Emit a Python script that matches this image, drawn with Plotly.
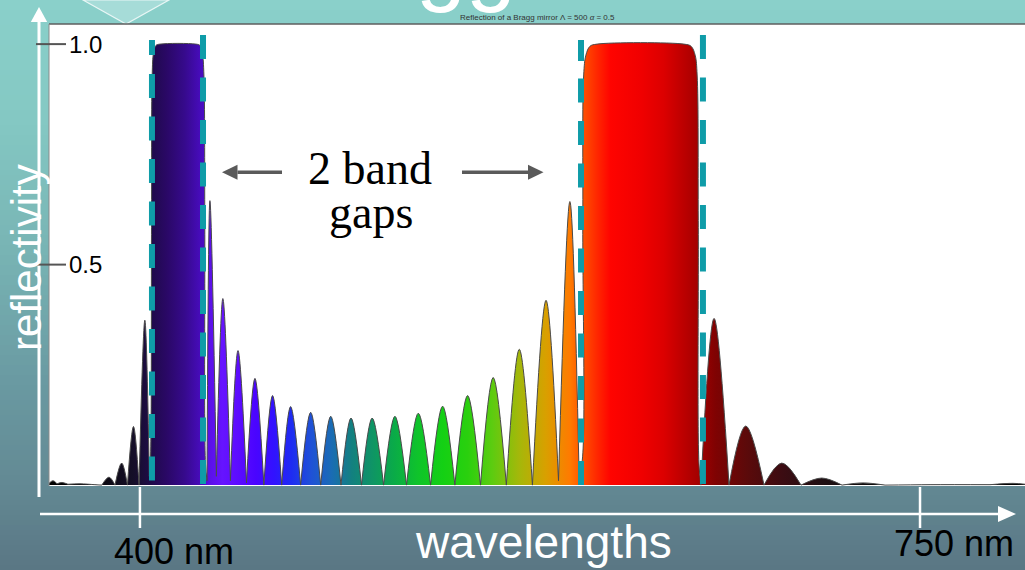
import plotly.graph_objects as go

# Reflectivity spectrum of the Bragg mirror: outline points (maxima and minima)
spectrum_nm = [
    359.2, 361.0, 362.8, 365.0, 367.7, 373.1, 379.8, 382.9, 386.1, 388.8,
    391.8, 394.4, 397.1, 399.6, 402.2, 404.2,
    404.7, 405.2, 405.5, 406.1, 407.2, 409.0, 425.1, 426.9, 428.0, 428.7,
    429.1, 429.4,
    430.1, 431.4, 434.3, 437.2, 440.6, 444.0, 447.8, 451.6, 455.6, 459.5,
    463.6, 467.6, 472.1, 476.6, 481.1, 485.6, 490.2, 494.7, 499.4, 504.2,
    509.3, 514.4, 519.6, 524.9, 530.4, 535.8, 541.3, 547.0, 552.8, 558.5,
    564.4, 570.2, 576.1, 582.2, 587.8, 592.9, 597.0,
    598.3, 598.7, 599.1, 600.1, 601.9, 605.1, 644.1, 647.3, 649.1, 650.0,
    650.5, 650.8,
    651.7, 657.6, 664.3, 671.8, 680.0, 688.0, 696.6, 705.9, 715.0, 724.4,
    734.3, 754.5, 781.4, 791.7, 797.1,
]
reflectivity = [
    0.004, 0.010, 0.003, 0.006, 0.002, 0.003, 0.001, 0.000, 0.018, 0.000,
    0.050, 0.000, 0.133, 0.000, 0.374, 0.020,
    0.050, 0.600, 0.930, 0.980, 0.997, 1.000, 1.000, 0.997, 0.980, 0.930,
    0.600, 0.050,
    0.010, 0.645, 0.020, 0.423, 0.010, 0.305, 0.005, 0.242, 0.000, 0.203,
    0.000, 0.178, 0.000, 0.165, 0.000, 0.156, 0.000, 0.152, 0.000, 0.152,
    0.000, 0.156, 0.000, 0.163, 0.000, 0.179, 0.000, 0.203, 0.000, 0.244,
    0.000, 0.308, 0.000, 0.419, 0.010, 0.643, 0.030,
    0.050, 0.600, 0.930, 0.975, 0.995, 1.000, 1.000, 0.995, 0.975, 0.930,
    0.600, 0.050,
    0.000, 0.378, 0.000, 0.134, 0.000, 0.050, 0.000, 0.016, 0.000, 0.005,
    0.000, 0.001, 0.001, 0.004, 0.002,
]

# Edges of the two band gaps (nm)
band_edge_nm = [405.4, 428.3, 597.9, 652.6]

x_tick_nm = [400, 750]
x_tick_text = ["400 nm", "750 nm"]
y_tick_r = [0.5, 1.0]
y_tick_text = ["0.5", "1.0"]

X_RANGE = [359.2, 797.1]
Y_RANGE = [-0.002, 1.0456]

W, H = 1025, 570
ML, MR, MT, MB = 49, 0, 24, 84
PW = W - ML - MR
PH = H - MT - MB


def px_x(px):
    return (px - ML) / PW


def px_y(py):
    return (H - MB - py) / PH


def hex_rgb(c):
    return [int(c[i:i + 2], 16) for i in (1, 3, 5)]


def lerp_hex(c1, c2, t):
    a, b = hex_rgb(c1), hex_rgb(c2)
    return "#%02x%02x%02x" % tuple(round(a[k] + (b[k] - a[k]) * t) for k in range(3))


# Wavelength-to-colour map used for the filled spectrum
spectral_stops = [
    (359.2, "#000000"), (385.0, "#0d0a14"), (397.0, "#150f28"), (403.0, "#1c0c40"),
    (405.5, "#200a4c"), (412.0, "#2a0866"), (420.0, "#360a8c"), (428.5, "#4a0cc4"),
    (431.0, "#5a10e6"), (437.0, "#6614ff"), (444.0, "#5c0cff"), (452.0, "#4a04ff"),
    (460.0, "#3212ff"), (468.0, "#1e2cf2"), (477.0, "#1f52d6"), (486.0, "#1a6cb4"),
    (495.0, "#138080"), (504.0, "#0f9466"), (514.0, "#0aab48"), (525.0, "#0fc42a"),
    (536.0, "#14d014"), (547.0, "#2ad00e"), (558.0, "#5ccc10"), (570.0, "#a4b80a"),
    (582.0, "#d8a000"), (593.0, "#ff7a00"), (598.5, "#ff5200"), (605.0, "#ff2800"),
    (611.0, "#ff0400"), (625.0, "#f00000"), (635.0, "#dc0000"), (645.0, "#b80000"),
    (651.0, "#a20000"), (658.0, "#800202"), (672.0, "#5c0a0a"), (688.0, "#3c0c12"),
    (706.0, "#201014"), (730.0, "#0c0c0c"), (797.1, "#000000"),
]
span = X_RANGE[1] - X_RANGE[0]
spectral_scale = [[(w - X_RANGE[0]) / span, c] for w, c in spectral_stops]

# Split the outline at every local minimum so each reflection lobe is
# smoothed on its own (lobes meet in sharp cusps at the minima).
seg_x, seg_y = [], []
n = len(spectrum_nm)
for i, (w, r) in enumerate(zip(spectrum_nm, reflectivity)):
    seg_x.append(w)
    seg_y.append(r)
    if 0 < i < n - 1 and r <= reflectivity[i - 1] and r <= reflectivity[i + 1]:
        seg_x += [None, w]
        seg_y += [None, r]

fig = go.Figure()
fig.add_trace(go.Scatter(
    x=seg_x, y=seg_y, mode="lines", connectgaps=False,
    line=dict(color="#4a4a4a", width=1, shape="spline", smoothing=1.0),
    fill="tozeroy",
    fillgradient=dict(type="horizontal", colorscale=spectral_scale,
                      start=X_RANGE[0], stop=X_RANGE[1]),
    hoverinfo="skip", showlegend=False,
))

shapes = []

# Slide background: vertical teal-to-slate gradient
bg_stops = [(0, "#8ad0ca"), (120, "#84c8c3"), (250, "#78b4b4"),
            (380, "#6a9aa2"), (480, "#638a94"), (570, "#5a7684")]


def bg_at(py):
    for (y0, c0), (y1, c1) in zip(bg_stops[:-1], bg_stops[1:]):
        if y0 <= py <= y1:
            return lerp_hex(c0, c1, (py - y0) / (y1 - y0))
    return bg_stops[-1][1]


step = 5
for top in range(0, H, step):
    shapes.append(dict(type="rect", xref="paper", yref="paper", layer="below",
                       x0=px_x(-2), x1=px_x(W + 2),
                       y0=px_y(top + step + 0.6), y1=px_y(top - 0.1),
                       fillcolor=bg_at(top + step / 2), line=dict(width=0)))
# white plotting panel
shapes.append(dict(type="rect", xref="paper", yref="paper", layer="below",
                   x0=0, x1=1, y0=0, y1=1, fillcolor="#ffffff", line=dict(width=0)))

# light chevron in the header strip
shapes.append(dict(type="path", xref="paper", yref="paper", layer="below",
                   path=f"M {px_x(83)} {px_y(0)} L {px_x(126)} {px_y(24)} L {px_x(169)} {px_y(0)} Z",
                   fillcolor="#a6dcd8", line=dict(color="#e8f6f5", width=1.2)))

# panel borders (top and left)
shapes.append(dict(type="line", xref="paper", yref="paper", x0=0, x1=1, y0=1, y1=1,
                   line=dict(color="#5e5e5e", width=1.5)))
shapes.append(dict(type="line", xref="paper", yref="paper", x0=0, x1=0, y0=0, y1=1,
                   line=dict(color="#8a8a8a", width=1)))

# dashed markers at the band-gap edges
dash_color = "#0f9ca8"
dash_start_px = [74, 35, 78.5, 35]
lead_segment_px = [(40, 55), None, (40, 61), None]
for edge, start, lead in zip(band_edge_nm, dash_start_px, lead_segment_px):
    shapes.append(dict(type="line", xref="x", yref="paper", x0=edge, x1=edge,
                       y0=px_y(start), y1=0,
                       line=dict(color=dash_color, width=6, dash="24px,18.5px")))
    if lead:
        shapes.append(dict(type="line", xref="x", yref="paper", x0=edge, x1=edge,
                           y0=px_y(lead[0]), y1=px_y(lead[1]),
                           line=dict(color=dash_color, width=6)))


def tri_path(p1, p2, p3):
    return (f"M {px_x(p1[0])} {px_y(p1[1])} L {px_x(p2[0])} {px_y(p2[1])} "
            f"L {px_x(p3[0])} {px_y(p3[1])} Z")


# white axis arrows
shapes.append(dict(type="line", xref="paper", yref="paper",
                   x0=px_x(39), x1=px_x(39), y0=px_y(497), y1=px_y(18),
                   line=dict(color="#ffffff", width=3)))
shapes.append(dict(type="path", xref="paper", yref="paper",
                   path=tri_path((39, 7), (30.8, 22), (47.2, 22)),
                   fillcolor="#ffffff", line=dict(width=0)))
shapes.append(dict(type="line", xref="paper", yref="paper",
                   x0=px_x(40), x1=px_x(1002), y0=px_y(514), y1=px_y(514),
                   line=dict(color="#ffffff", width=2.5)))
shapes.append(dict(type="path", xref="paper", yref="paper",
                   path=tri_path((1016, 514), (998, 506), (998, 522)),
                   fillcolor="#ffffff", line=dict(width=0)))

# x ticks (white) and y ticks (grey)
for t in x_tick_nm:
    shapes.append(dict(type="line", xref="x", yref="paper", x0=t, x1=t,
                       y0=px_y(487), y1=px_y(528),
                       line=dict(color="#ffffff", width=2.5)))
for r in y_tick_r:
    shapes.append(dict(type="line", xref="paper", yref="y",
                       x0=px_x(36), x1=px_x(66), y0=r, y1=r,
                       line=dict(color="#555555", width=2)))

# grey arrows pointing at the two band gaps
arrow_grey = "#5a5a5a"
for tail, tip in [((282, 172.3), (222, 172.3)), ((462, 172.3), (543.5, 172.3))]:
    d = 1 if tip[0] > tail[0] else -1
    base = tip[0] - d * 15.5
    shapes.append(dict(type="line", xref="paper", yref="paper",
                       x0=px_x(tail[0]), x1=px_x(base), y0=px_y(tail[1]), y1=px_y(tail[1]),
                       line=dict(color=arrow_grey, width=3.5)))
    shapes.append(dict(type="path", xref="paper", yref="paper",
                       path=tri_path(tip, (base, tip[1] - 7.5), (base, tip[1] + 7.5)),
                       fillcolor=arrow_grey, line=dict(width=0)))

annotations = []
sans = "Liberation Sans, Arial, sans-serif"
serif = "Liberation Serif, Times New Roman, serif"

# y tick labels
for r, txt in zip(y_tick_r, y_tick_text):
    annotations.append(dict(text=txt, xref="paper", yref="y", x=px_x(67), y=r,
                            xanchor="left", yanchor="middle", showarrow=False,
                            font=dict(family=sans, size=24, color="#000000")))
# x tick labels
for t, txt, ypx in zip(x_tick_nm, x_tick_text, [551, 543]):
    annotations.append(dict(text=txt, xref="x", yref="paper", x=t, y=px_y(ypx),
                            xanchor="left", yanchor="middle", xshift=-28, showarrow=False,
                            font=dict(family=sans, size=36, color="#000000")))

annotations.append(dict(text="wavelengths", xref="paper", yref="paper",
                        x=px_x(543), y=px_y(542), xanchor="center", yanchor="middle",
                        showarrow=False, font=dict(family=sans, size=46, color="#ffffff")))
annotations.append(dict(text="reflectivity", xref="paper", yref="paper",
                        x=px_x(26), y=px_y(258), xanchor="center", yanchor="middle",
                        textangle=-90, showarrow=False,
                        font=dict(family=sans, size=42, color="#ffffff")))

annotations.append(dict(text="2 band", xref="paper", yref="paper",
                        x=px_x(370), y=px_y(168), xanchor="center", yanchor="middle",
                        showarrow=False, font=dict(family=serif, size=46, color="#000000")))
annotations.append(dict(text="gaps", xref="paper", yref="paper",
                        x=px_x(370.5), y=px_y(212), xanchor="center", yanchor="middle",
                        showarrow=False, font=dict(family=serif, size=46, color="#000000")))

# slide heading (only its lower part shows) and small plot title
annotations.append(dict(text="gg", xref="paper", yref="paper",
                        x=px_x(466), y=px_y(15), xanchor="center", yanchor="bottom",
                        showarrow=False, font=dict(family=sans, size=90, color="#ffffff")))
annotations.append(dict(text="Reflection of a Bragg mirror Λ = 500 <i>α</i> = 0.5",
                        xref="paper", yref="paper", x=px_x(537), y=px_y(17.5),
                        xanchor="center", yanchor="middle", showarrow=False,
                        font=dict(family=sans, size=8, color="#333333")))

fig.update_layout(
    width=W, height=H,
    margin=dict(l=ML, r=MR, t=MT, b=MB),
    paper_bgcolor="#70a0a6",
    plot_bgcolor="rgba(0,0,0,0)",
    xaxis=dict(range=X_RANGE, visible=False, fixedrange=True),
    yaxis=dict(range=Y_RANGE, visible=False, fixedrange=True),
    shapes=shapes,
    annotations=annotations,
    showlegend=False,
)

fig.write_html("out.html", config={"displayModeBar": False})
